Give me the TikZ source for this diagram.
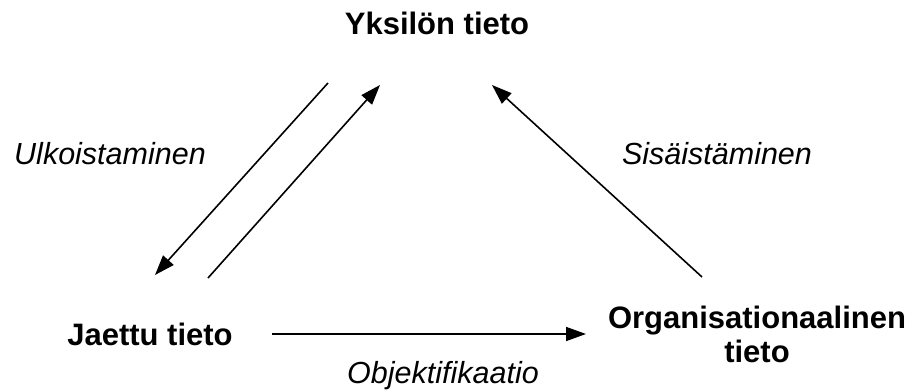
\documentclass[tikz,border=0pt]{standalone}
\usepackage{fontspec}
\setmainfont{Liberation Sans}
\usetikzlibrary{arrows.meta}
\begin{document}
\begin{tikzpicture}[x=1pt,y=-1pt,
  concept/.style={font=\bfseries\fontsize{31}{34}\selectfont,inner sep=0pt,anchor=base,align=center},
  process/.style={font=\itshape\fontsize{30.5}{34}\selectfont,inner sep=0pt,anchor=base},
  flow/.style={line width=1.6pt,-{Triangle[length=20pt,width=14pt]}}]
\useasboundingbox (0,0) rectangle (913,390);
\node[concept] (yks) at (437,35) {Yksilön tieto};
\node[concept] (jaettu) at (150,345) {Jaettu tieto};
\node[concept] (org) at (757,328) {Organisationaalinen};
\node[concept] (org2) at (757,362) {tieto};
\node[process] (ulk) at (110,165) {Ulkoistaminen};
\node[process] (sis) at (717,165) {Sisäistäminen};
\node[process] (obj) at (443,383) {Objektifikaatio};
\coordinate (a1s) at (328,83);
\coordinate (a1e) at (155,275);
\coordinate (a2s) at (208,278);
\coordinate (a2e) at (380,85);
\coordinate (a3s) at (702,277);
\coordinate (a3e) at (492,85);
\coordinate (a4s) at (272,334);
\coordinate (a4e) at (586,334);
\draw[flow] (a1s) -- (a1e);
\draw[flow] (a2s) -- (a2e);
\draw[flow] (a3s) -- (a3e);
\draw[flow] (a4s) -- (a4e);
\end{tikzpicture}
\end{document}
